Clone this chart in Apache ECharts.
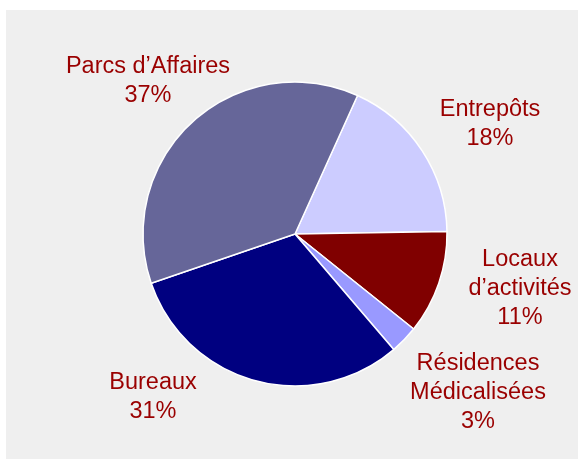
<!DOCTYPE html>
<html>
<head>
<meta charset="utf-8">
<script src="https://cdn.jsdelivr.net/npm/echarts@6/dist/echarts.min.js"></script>
<style>
    html, body { margin: 0; padding: 0; background: #fff; }
    #main { width: 578px; height: 459px; }
</style>
</head>
<body>
<div id="main"></div>
<script>
// données du graphique (sens horaire, depuis Entrepôts)
let categories = ['Entrepôts', 'Locaux\nd’activités', 'Résidences\nMédicalisées', 'Bureaux', 'Parcs d’Affaires'];
let shares = [18, 11, 3, 31, 37];
let sliceColors = ['#ccccff', '#800000', '#9999ff', '#000080', '#666699'];

// centre de chaque bloc d'étiquette
let labelPos = [[490, 124], [520, 289], [478, 393], [153, 397], [148, 81]];

let myChart = echarts.init(document.getElementById('main'));

let option = {
    animation: false,
    backgroundColor: '#ffffff',
    graphic: [{
        type: 'rect',
        left: 6,
        top: 10,
        shape: { width: 572, height: 449 },
        style: { fill: '#efefef' },
        z: -10
    }],
    series: [{
        type: 'pie',
        center: [295, 234],
        radius: 152,
        startAngle: 65.7,
        clockwise: true,
        avoidLabelOverlap: false,
        itemStyle: {
            borderColor: '#ffffff',
            borderWidth: 1.5
        },
        label: {
            show: true,
            position: 'outside',
            formatter: '{b}\n{c}%',
            color: '#9a0000',
            fontFamily: 'Liberation Sans, Arial, sans-serif',
            fontSize: 23.5,
            lineHeight: 29,
            align: 'center'
        },
        labelLine: { show: false },
        labelLayout: function (params) {
            let p = labelPos[params.dataIndex];
            return {
                x: p[0],
                y: p[1],
                align: 'center',
                verticalAlign: 'middle'
            };
        },
        data: categories.map(function (name, i) {
            return { name: name, value: shares[i], itemStyle: { color: sliceColors[i] } };
        })
    }]
};
myChart.setOption(option);
</script>
</body>
</html>
